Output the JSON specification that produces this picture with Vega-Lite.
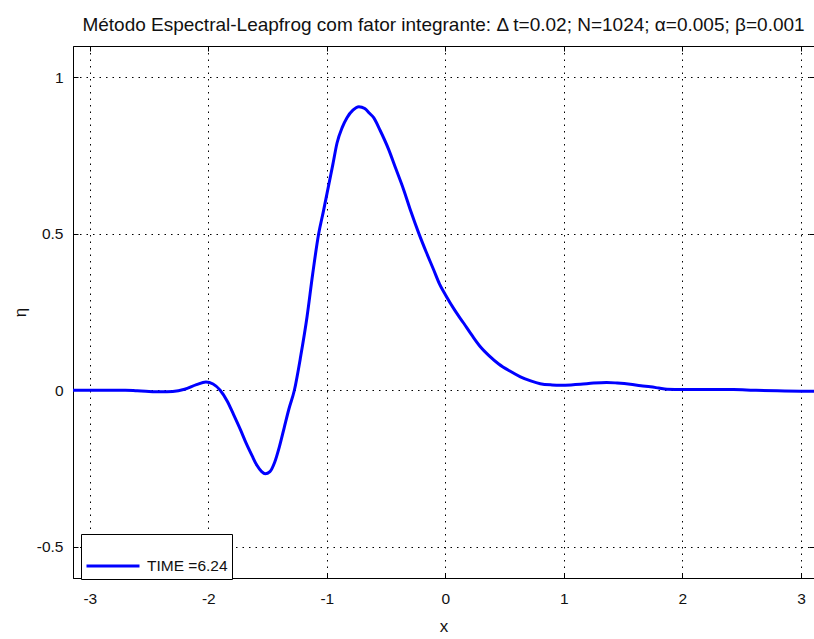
{
  "$schema": "https://vega.github.io/schema/vega-lite/v6.json",
  "autosize": {"type": "none"},
  "padding": {"left": 73, "top": 46, "right": 0, "bottom": 61},
  "width": 741,
  "height": 532,
  "background": "white",
  "title": {
    "text": "Método Espectral-Leapfrog com fator integrante: Δ t=0.02; N=1024; α=0.005; β=0.001",
    "font": "Liberation Sans",
    "fontSize": 19,
    "fontWeight": "normal",
    "color": "#111111",
    "offset": 11,
    "anchor": "middle"
  },
  "config": {
    "view": {"stroke": "black", "strokeWidth": 1},
    "axis": {
      "labelFont": "Liberation Sans",
      "labelFontSize": 15.5,
      "labelColor": "#111111",
      "titleFont": "Liberation Sans",
      "titleFontSize": 17,
      "titleFontWeight": "normal",
      "titleColor": "#111111",
      "domainColor": "black",
      "tickColor": "black",
      "gridColor": "black",
      "gridDash": [1.5, 5],
      "gridOpacity": 1,
      "gridWidth": 1
    }
  },
  "data": {
    "values": [
      {"x": -3.1416, "eta": 0.0, "s": "TIME =6.24"},
      {"x": -2.9, "eta": 0.0, "s": "TIME =6.24"},
      {"x": -2.7, "eta": 0.0, "s": "TIME =6.24"},
      {"x": -2.6, "eta": -0.002, "s": "TIME =6.24"},
      {"x": -2.5, "eta": -0.004, "s": "TIME =6.24"},
      {"x": -2.4, "eta": -0.005, "s": "TIME =6.24"},
      {"x": -2.3, "eta": -0.004, "s": "TIME =6.24"},
      {"x": -2.2, "eta": 0.003, "s": "TIME =6.24"},
      {"x": -2.1, "eta": 0.018, "s": "TIME =6.24"},
      {"x": -2.02, "eta": 0.026, "s": "TIME =6.24"},
      {"x": -1.96, "eta": 0.02, "s": "TIME =6.24"},
      {"x": -1.9, "eta": 0.0, "s": "TIME =6.24"},
      {"x": -1.84, "eta": -0.035, "s": "TIME =6.24"},
      {"x": -1.79, "eta": -0.075, "s": "TIME =6.24"},
      {"x": -1.73, "eta": -0.125, "s": "TIME =6.24"},
      {"x": -1.68, "eta": -0.17, "s": "TIME =6.24"},
      {"x": -1.63, "eta": -0.21, "s": "TIME =6.24"},
      {"x": -1.59, "eta": -0.24, "s": "TIME =6.24"},
      {"x": -1.55, "eta": -0.26, "s": "TIME =6.24"},
      {"x": -1.52, "eta": -0.267, "s": "TIME =6.24"},
      {"x": -1.48, "eta": -0.26, "s": "TIME =6.24"},
      {"x": -1.44, "eta": -0.23, "s": "TIME =6.24"},
      {"x": -1.4, "eta": -0.18, "s": "TIME =6.24"},
      {"x": -1.36, "eta": -0.12, "s": "TIME =6.24"},
      {"x": -1.32, "eta": -0.06, "s": "TIME =6.24"},
      {"x": -1.274, "eta": 0.0, "s": "TIME =6.24"},
      {"x": -1.22, "eta": 0.11, "s": "TIME =6.24"},
      {"x": -1.167, "eta": 0.235, "s": "TIME =6.24"},
      {"x": -1.12, "eta": 0.37, "s": "TIME =6.24"},
      {"x": -1.069, "eta": 0.5, "s": "TIME =6.24"},
      {"x": -1.03, "eta": 0.57, "s": "TIME =6.24"},
      {"x": -0.998, "eta": 0.63, "s": "TIME =6.24"},
      {"x": -0.95, "eta": 0.72, "s": "TIME =6.24"},
      {"x": -0.914, "eta": 0.79, "s": "TIME =6.24"},
      {"x": -0.87, "eta": 0.84, "s": "TIME =6.24"},
      {"x": -0.83, "eta": 0.871, "s": "TIME =6.24"},
      {"x": -0.78, "eta": 0.895, "s": "TIME =6.24"},
      {"x": -0.73, "eta": 0.906, "s": "TIME =6.24"},
      {"x": -0.68, "eta": 0.9, "s": "TIME =6.24"},
      {"x": -0.64, "eta": 0.885, "s": "TIME =6.24"},
      {"x": -0.605, "eta": 0.871, "s": "TIME =6.24"},
      {"x": -0.55, "eta": 0.83, "s": "TIME =6.24"},
      {"x": -0.478, "eta": 0.769, "s": "TIME =6.24"},
      {"x": -0.42, "eta": 0.71, "s": "TIME =6.24"},
      {"x": -0.352, "eta": 0.641, "s": "TIME =6.24"},
      {"x": -0.29, "eta": 0.57, "s": "TIME =6.24"},
      {"x": -0.225, "eta": 0.502, "s": "TIME =6.24"},
      {"x": -0.16, "eta": 0.44, "s": "TIME =6.24"},
      {"x": -0.099, "eta": 0.385, "s": "TIME =6.24"},
      {"x": -0.05, "eta": 0.34, "s": "TIME =6.24"},
      {"x": 0.0, "eta": 0.305, "s": "TIME =6.24"},
      {"x": 0.08, "eta": 0.255, "s": "TIME =6.24"},
      {"x": 0.155, "eta": 0.214, "s": "TIME =6.24"},
      {"x": 0.225, "eta": 0.175, "s": "TIME =6.24"},
      {"x": 0.295, "eta": 0.139, "s": "TIME =6.24"},
      {"x": 0.37, "eta": 0.11, "s": "TIME =6.24"},
      {"x": 0.45, "eta": 0.084, "s": "TIME =6.24"},
      {"x": 0.54, "eta": 0.062, "s": "TIME =6.24"},
      {"x": 0.633, "eta": 0.043, "s": "TIME =6.24"},
      {"x": 0.72, "eta": 0.03, "s": "TIME =6.24"},
      {"x": 0.8, "eta": 0.021, "s": "TIME =6.24"},
      {"x": 0.9, "eta": 0.017, "s": "TIME =6.24"},
      {"x": 0.97, "eta": 0.016, "s": "TIME =6.24"},
      {"x": 1.06, "eta": 0.017, "s": "TIME =6.24"},
      {"x": 1.14, "eta": 0.019, "s": "TIME =6.24"},
      {"x": 1.25, "eta": 0.023, "s": "TIME =6.24"},
      {"x": 1.36, "eta": 0.025, "s": "TIME =6.24"},
      {"x": 1.45, "eta": 0.023, "s": "TIME =6.24"},
      {"x": 1.56, "eta": 0.019, "s": "TIME =6.24"},
      {"x": 1.65, "eta": 0.014, "s": "TIME =6.24"},
      {"x": 1.73, "eta": 0.011, "s": "TIME =6.24"},
      {"x": 1.8, "eta": 0.007, "s": "TIME =6.24"},
      {"x": 1.87, "eta": 0.003, "s": "TIME =6.24"},
      {"x": 2.0, "eta": 0.002, "s": "TIME =6.24"},
      {"x": 2.15, "eta": 0.002, "s": "TIME =6.24"},
      {"x": 2.43, "eta": 0.002, "s": "TIME =6.24"},
      {"x": 2.6, "eta": 0.0, "s": "TIME =6.24"},
      {"x": 2.8, "eta": -0.002, "s": "TIME =6.24"},
      {"x": 3.0, "eta": -0.003, "s": "TIME =6.24"},
      {"x": 3.1416, "eta": -0.003, "s": "TIME =6.24"}
    ]
  },
  "layer": [
    {
      "mark": {"type": "line", "strokeWidth": 3, "clip": true, "interpolate": "monotone"},
      "encoding": {
        "x": {
          "field": "x", "type": "quantitative",
          "scale": {"domain": [-3.1416, 3.11], "nice": false, "zero": false},
          "axis": {"values": [-3, -2, -1, 0, 1, 2, 3], "labelExpr": "datum.value + ''", "title": "x", "tickSize": -5, "labelPadding": 18, "titlePadding": 12, "grid": true}
        },
        "y": {
          "field": "eta", "type": "quantitative",
          "scale": {"domain": [-0.6, 1.1], "nice": false, "zero": false},
          "axis": {"values": [-0.5, 0, 0.5, 1], "labelExpr": "datum.value + ''", "title": "η", "tickSize": -5, "labelPadding": 15, "titlePadding": 7, "grid": true}
        },
        "color": {
          "field": "s", "type": "nominal",
          "scale": {"range": ["#0000ff"]},
          "legend": {
            "title": null,
            "orient": "none",
            "legendX": 8,
            "legendY": 488,
            "symbolType": "stroke",
            "symbolSize": 2809,
            "symbolStrokeWidth": 3,
            "labelFont": "Liberation Sans",
            "labelFontSize": 15.5,
            "labelColor": "#111111",
            "labelOffset": 6,
            "strokeColor": "black",
            "fillColor": "white",
            "padding": 4
          }
        }
      }
    },
    {
      "mark": {"type": "line", "strokeOpacity": 0, "clip": true},
      "encoding": {
        "x": {
          "field": "x", "type": "quantitative",
          "axis": {"orient": "top", "values": [-3, -2, -1, 0, 1, 2, 3], "title": null, "labels": false, "tickSize": -5, "grid": false, "domain": false}
        },
        "y": {
          "field": "eta", "type": "quantitative",
          "axis": {"orient": "right", "values": [-0.5, 0, 0.5, 1], "title": null, "labels": false, "tickSize": -5, "grid": false, "domain": false}
        }
      }
    }
  ],
  "resolve": {"axis": {"x": "independent", "y": "independent"}}
}
